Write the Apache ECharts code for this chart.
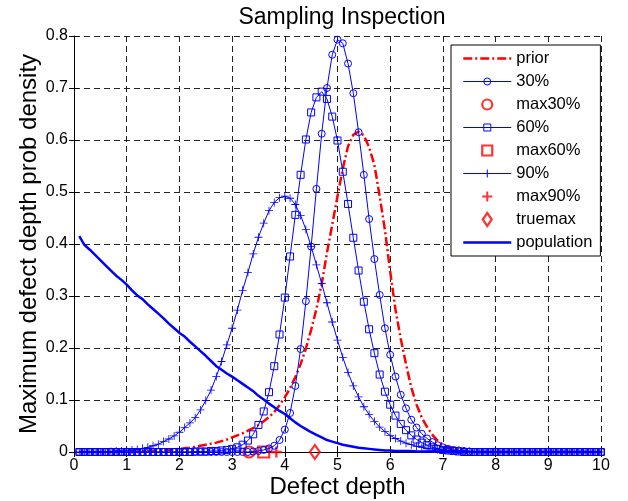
<!DOCTYPE html>
<html>
<head>
<meta charset="utf-8">
<title>Sampling Inspection</title>
<script src="https://cdn.jsdelivr.net/npm/echarts@6/dist/echarts.min.js"></script>
<style>
html, body { margin: 0; padding: 0; background: #fff; }
#chart { width: 628px; height: 501px; }
</style>
</head>
<body>
<div id="chart"></div>
<script>
// defect depth grid (x) shared by all curves
var depth = [
  0.1, 0.2, 0.3, 0.4, 0.5, 0.6, 0.7, 0.8, 0.9, 1.0,
  1.1, 1.2, 1.3, 1.4, 1.5, 1.6, 1.7, 1.8, 1.9, 2.0,
  2.1, 2.2, 2.3, 2.4, 2.5, 2.6, 2.7, 2.8, 2.9, 3.0,
  3.1, 3.2, 3.3, 3.4, 3.5, 3.6, 3.7, 3.8, 3.9, 4.0,
  4.1, 4.2, 4.3, 4.4, 4.5, 4.6, 4.7, 4.8, 4.9, 5.0,
  5.1, 5.2, 5.3, 5.4, 5.5, 5.6, 5.7, 5.8, 5.9, 6.0,
  6.1, 6.2, 6.3, 6.4, 6.5, 6.6, 6.7, 6.8, 6.9, 7.0,
  7.1, 7.2, 7.3, 7.4, 7.5, 7.6, 7.7, 7.8, 7.9, 8.0,
  8.1, 8.2, 8.3, 8.4, 8.5, 8.6, 8.7, 8.8, 8.9, 9.0,
  9.1, 9.2, 9.3, 9.4, 9.5, 9.6, 9.7, 9.8, 9.9, 10.0
];

var prior = [
  0, 0, 0, 0, 0, 0, 0, 0, 0.001, 0.001,
  0.001, 0.001, 0.002, 0.002, 0.002, 0.003, 0.003, 0.004, 0.005, 0.006,
  0.007, 0.008, 0.010, 0.012, 0.014, 0.016, 0.018, 0.021, 0.024, 0.028,
  0.032, 0.036, 0.041, 0.046, 0.052, 0.059, 0.067, 0.077, 0.090, 0.105,
  0.123, 0.144, 0.169, 0.199, 0.235, 0.275, 0.323, 0.383, 0.437, 0.492,
  0.545, 0.588, 0.610, 0.616, 0.609, 0.586, 0.552, 0.492, 0.427, 0.347,
  0.274, 0.218, 0.169, 0.124, 0.091, 0.066, 0.048, 0.033, 0.022, 0.014,
  0.009, 0.006, 0.004, 0.002, 0.001, 0, 0, 0, 0, 0,
  0, 0, 0, 0, 0, 0, 0, 0, 0, 0,
  0, 0, 0, 0, 0, 0, 0, 0, 0, 0
];

var s30 = [
  0, 0, 0, 0, 0, 0, 0, 0, 0, 0,
  0, 0, 0, 0, 0, 0, 0, 0, 0, 0,
  0, 0, 0, 0, 0, 0, 0, 0, 0, 0,
  0, 0, 0, 0.001, 0.002, 0.004, 0.007, 0.012, 0.023, 0.043,
  0.075, 0.127, 0.198, 0.290, 0.395, 0.506, 0.612, 0.700, 0.764, 0.793,
  0.786, 0.747, 0.690, 0.615, 0.533, 0.448, 0.371, 0.302, 0.238, 0.187,
  0.145, 0.110, 0.084, 0.062, 0.047, 0.035, 0.026, 0.019, 0.013, 0.009,
  0.006, 0.004, 0.003, 0.002, 0.001, 0, 0, 0, 0, 0,
  0, 0, 0, 0, 0, 0, 0, 0, 0, 0,
  0, 0, 0, 0, 0, 0, 0, 0, 0, 0
];

var s60 = [
  0, 0, 0, 0, 0, 0, 0, 0, 0, 0,
  0, 0, 0, 0, 0, 0, 0, 0, 0, 0,
  0, 0, 0.001, 0.001, 0.001, 0.002, 0.002, 0.003, 0.004, 0.006,
  0.009, 0.014, 0.022, 0.034, 0.052, 0.078, 0.115, 0.165, 0.226, 0.297,
  0.376, 0.456, 0.533, 0.601, 0.653, 0.682, 0.693, 0.679, 0.645, 0.599,
  0.539, 0.477, 0.412, 0.349, 0.289, 0.236, 0.190, 0.149, 0.116, 0.091,
  0.070, 0.054, 0.042, 0.032, 0.024, 0.018, 0.013, 0.009, 0.006, 0.004,
  0.003, 0.002, 0.001, 0, 0, 0, 0, 0, 0, 0,
  0, 0, 0, 0, 0, 0, 0, 0, 0, 0,
  0, 0, 0, 0, 0, 0, 0, 0, 0, 0
];

var s90 = [
  0, 0, 0, 0, 0, 0, 0.001, 0.002, 0.002, 0.003,
  0.004, 0.005, 0.007, 0.009, 0.012, 0.015, 0.020, 0.025, 0.031, 0.038,
  0.047, 0.056, 0.066, 0.081, 0.099, 0.119, 0.145, 0.174, 0.206, 0.238,
  0.273, 0.311, 0.345, 0.381, 0.413, 0.440, 0.464, 0.480, 0.489, 0.492,
  0.488, 0.476, 0.455, 0.428, 0.395, 0.360, 0.324, 0.287, 0.250, 0.215,
  0.182, 0.153, 0.127, 0.106, 0.087, 0.072, 0.059, 0.048, 0.039, 0.032,
  0.026, 0.021, 0.017, 0.014, 0.011, 0.009, 0.007, 0.006, 0.005, 0.004,
  0.003, 0.002, 0.002, 0.001, 0.001, 0, 0, 0, 0, 0,
  0, 0, 0, 0, 0, 0, 0, 0, 0, 0,
  0, 0, 0, 0, 0, 0, 0, 0, 0, 0
];

var population = [
  0.415, 0.398, 0.389, 0.379, 0.369, 0.359, 0.349, 0.339, 0.331, 0.322,
  0.311, 0.301, 0.294, 0.284, 0.275, 0.266, 0.257, 0.247, 0.238, 0.229,
  0.222, 0.212, 0.203, 0.194, 0.185, 0.175, 0.165, 0.158, 0.151, 0.145,
  0.138, 0.131, 0.124, 0.117, 0.108, 0.101, 0.093, 0.086, 0.079, 0.073,
  0.065, 0.057, 0.050, 0.044, 0.038, 0.033, 0.028, 0.023, 0.020, 0.017,
  0.014, 0.012, 0.010, 0.008, 0.007, 0.006, 0.005, 0.004, 0.003, 0.003,
  0.002, 0.002, 0.002, 0.002, 0.001, 0.001, 0.001, 0.001, 0.001, 0.001,
  0, 0, 0, 0, 0, 0, 0, 0, 0, 0,
  0, 0, 0, 0, 0, 0, 0, 0, 0, 0,
  0, 0, 0, 0, 0, 0, 0, 0, 0, 0
];

// location of the maxima, drawn on the x axis
var max30 = [[3.32, 0]];
var max60 = [[3.6, 0]];
var max90 = [[3.84, 0]];
var trueMax = [[4.57, 0]];

var FONT = '"Liberation Sans", Arial, Helvetica, sans-serif';
var BLUE = '#0000ff';
var RED = '#ff0000';
var NONE = 'rgba(0,0,0,0)';
var plusThin = 'path://M0,4.5H10V5.5H0Z M4.5,0H5.5V10H4.5Z';
var plusBold = 'path://M0,3.9H10V6.1H0Z M3.9,0H6.1V10H3.9Z';

// legend icons, drawn in a 48x14 box (the leading moves pin the box)
var BOX = 'path://M0,0M48,14';
var legendItems = [
  { name: 'prior', icon: BOX + 'M0,7H9M12,7H14M17,7H26M29,7H31M34,7H43M46,7H48',
    itemStyle: { color: NONE, borderColor: RED, borderWidth: 2.5 } },
  { name: '30%', icon: BOX + 'M0,7H48M27.5,7A3.5,3.5,0,1,1,20.5,7A3.5,3.5,0,1,1,27.5,7',
    itemStyle: { color: NONE, borderColor: BLUE, borderWidth: 1 } },
  { name: 'max30%', icon: BOX + 'M29,7A5,5,0,1,1,19,7A5,5,0,1,1,29,7',
    itemStyle: { color: NONE, borderColor: RED, borderWidth: 2.2 } },
  { name: '60%', icon: BOX + 'M0,7H48M20.5,3.5H27.5V10.5H20.5Z',
    itemStyle: { color: NONE, borderColor: BLUE, borderWidth: 1 } },
  { name: 'max60%', icon: BOX + 'M19,2H29V12H19Z',
    itemStyle: { color: NONE, borderColor: RED, borderWidth: 2.2 } },
  { name: '90%', icon: BOX + 'M0,7H48M24,3V11',
    itemStyle: { color: NONE, borderColor: BLUE, borderWidth: 1 } },
  { name: 'max90%', icon: BOX + 'M19,6H29V8H19ZM23,2H25V12H23Z',
    itemStyle: { color: RED, borderWidth: 0 } },
  { name: 'truemax', icon: BOX + 'M24,0.5L28.5,7L24,13.5L19.5,7Z',
    itemStyle: { color: NONE, borderColor: RED, borderWidth: 2.2 } },
  { name: 'population', icon: BOX + 'M0,7H48',
    itemStyle: { color: NONE, borderColor: BLUE, borderWidth: 2.5 } }
];

function pairs(ys) {
  return depth.map(function (x, i) { return [x, ys[i]]; });
}

var gridLine = { show: true, lineStyle: { color: '#222', width: 1, type: [6, 4] } };
var tick = { show: true, inside: true, length: 5, lineStyle: { color: '#000' } };

var chart = echarts.init(document.getElementById('chart'));
chart.setOption({
  animation: false,
  textStyle: { fontFamily: FONT },
  title: {
    text: 'Sampling Inspection',
    left: 337, top: 1, textAlign: 'center',
    textStyle: { fontFamily: FONT, fontSize: 23, fontWeight: 'normal', color: '#000' }
  },
  grid: { left: 74, right: 27, top: 36, bottom: 49, outerBoundsMode: 'none' },
  legend: {
    data: legendItems,
    orient: 'vertical', left: 451, top: 45,
    padding: [5, 8, 5, 11],
    itemWidth: 48, itemHeight: 14, itemGap: 6,
    borderColor: '#000', borderWidth: 1, borderRadius: 0,
    backgroundColor: '#fff',
    textStyle: { fontFamily: FONT, fontSize: 16.5, color: '#000' }
  },
  xAxis: [{
    type: 'value', min: 0, max: 10, interval: 1,
    name: 'Defect depth', nameLocation: 'middle', nameGap: 23, nameMoveOverlap: false,
    nameTextStyle: { fontFamily: FONT, fontSize: 24, color: '#000' },
    axisLine: { show: true, lineStyle: { color: '#000' } },
    axisTick: tick,
    axisLabel: { fontFamily: FONT, fontSize: 16, color: '#000', margin: 6 },
    splitLine: gridLine
  }, {
    type: 'value', position: 'top', min: 0, max: 10, interval: 1,
    axisLine: { show: false }, axisTick: tick,
    axisLabel: { show: false }, splitLine: { show: false }
  }],
  yAxis: [{
    type: 'value', min: 0, max: 0.8, interval: 0.1,
    name: 'Maximum defect depth prob density', nameLocation: 'middle', nameGap: 33, nameMoveOverlap: false,
    nameTextStyle: { fontFamily: FONT, fontSize: 24, color: '#000' },
    axisLine: { show: true, lineStyle: { color: '#000' } },
    axisTick: tick,
    axisLabel: { fontFamily: FONT, fontSize: 16, color: '#000', margin: 6 },
    splitLine: gridLine
  }, {
    type: 'value', position: 'right', min: 0, max: 0.8, interval: 0.1,
    axisLine: { show: false }, axisTick: tick,
    axisLabel: { show: false }, splitLine: { show: false }
  }],
  series: [{
    name: 'prior', type: 'line', data: pairs(prior), clip: false,
    symbol: 'none',
    lineStyle: { color: RED, width: 2.5, type: [9, 3, 2, 3] },
    itemStyle: { color: NONE }
  }, {
    name: '30%', type: 'line', data: pairs(s30), clip: false,
    symbol: 'circle', symbolSize: 7, showAllSymbol: true,
    lineStyle: { color: BLUE, width: 1 },
    itemStyle: { color: NONE, borderColor: BLUE, borderWidth: 1 }
  }, {
    name: 'max30%', type: 'scatter', data: max30, clip: false,
    symbol: 'circle', symbolSize: 11,
    itemStyle: { color: NONE, borderColor: RED, borderWidth: 2.2 }
  }, {
    name: '60%', type: 'line', data: pairs(s60), clip: false,
    symbol: 'rect', symbolSize: 7, showAllSymbol: true,
    lineStyle: { color: BLUE, width: 1 },
    itemStyle: { color: NONE, borderColor: BLUE, borderWidth: 1 }
  }, {
    name: 'max60%', type: 'scatter', data: max60, clip: false,
    symbol: 'rect', symbolSize: 11,
    itemStyle: { color: NONE, borderColor: RED, borderWidth: 2.2 }
  }, {
    name: '90%', type: 'line', data: pairs(s90), clip: false,
    symbol: plusThin, symbolSize: 8, showAllSymbol: true,
    lineStyle: { color: BLUE, width: 1 },
    itemStyle: { color: BLUE }
  }, {
    name: 'max90%', type: 'scatter', data: max90, clip: false,
    symbol: plusBold, symbolSize: 11,
    itemStyle: { color: RED }
  }, {
    name: 'truemax', type: 'scatter', data: trueMax, clip: false,
    symbol: 'diamond', symbolSize: [10, 14],
    itemStyle: { color: NONE, borderColor: RED, borderWidth: 2.2 }
  }, {
    name: 'population', type: 'line', data: pairs(population), clip: false,
    symbol: 'none',
    lineStyle: { color: BLUE, width: 2.5 },
    itemStyle: { color: NONE }
  }]
});
</script>
</body>
</html>
